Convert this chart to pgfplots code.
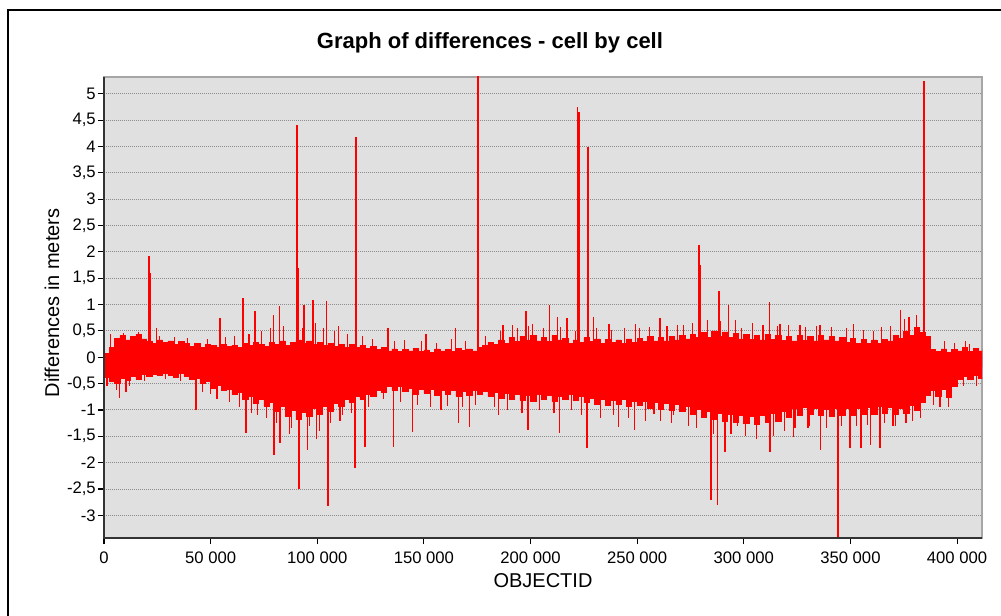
\documentclass[border=0pt]{standalone}
\usepackage{fontspec}
\setmainfont{Liberation Sans}
\usepackage{pgfplots}
\usepackage{pgfplotstable}
\pgfplotsset{compat=1.18}
\definecolor{bggray}{RGB}{224,224,224}
\definecolor{gridgray}{RGB}{140,140,140}
\definecolor{redline}{RGB}{255,0,0}

% dense band envelope (upper / lower edge of the signal)
\pgfplotstableread{
x hi lo
0 0.08 -0.38
2500 0.18 -0.46
5000 0.36 -0.50
7500 0.41 -0.40
10000 0.33 -0.44
12500 0.39 -0.36
15000 0.43 -0.42
17500 0.35 -0.33
20000 0.30 -0.37
22500 0.26 -0.32
25000 0.33 -0.35
27500 0.28 -0.30
30000 0.31 -0.34
32500 0.24 -0.38
35000 0.30 -0.31
37500 0.27 -0.36
40000 0.21 -0.42
42500 0.26 -0.39
45000 0.19 -0.50
47500 0.24 -0.46
50000 0.22 -0.58
52500 0.18 -0.54
55000 0.25 -0.63
57500 0.20 -0.60
60000 0.23 -0.71
62500 0.19 -0.66
65000 0.27 -0.80
67500 0.22 -0.74
70000 0.29 -0.88
72500 0.24 -0.80
75000 0.20 -0.93
77500 0.28 -0.86
80000 0.25 -1.02
82500 0.31 -0.94
85000 0.23 -1.12
87500 0.29 -1.00
90000 0.33 -1.18
92500 0.26 -1.05
95000 0.31 -1.12
97500 0.24 -0.96
100000 0.29 -1.08
102500 0.22 -0.94
105000 0.27 -1.02
107500 0.20 -0.88
110000 0.25 -0.94
112500 0.19 -0.80
115000 0.24 -0.86
117500 0.18 -0.74
120000 0.23 -0.80
122500 0.17 -0.70
125000 0.21 -0.74
127500 0.15 -0.62
130000 0.18 -0.66
132500 0.12 -0.56
135000 0.16 -0.62
137500 0.11 -0.55
140000 0.15 -0.64
142500 0.12 -0.58
145000 0.17 -0.70
147500 0.11 -0.61
150000 0.14 -0.68
152500 0.10 -0.60
155000 0.16 -0.72
157500 0.12 -0.63
160000 0.15 -0.70
162500 0.11 -0.62
165000 0.17 -0.74
167500 0.13 -0.65
170000 0.16 -0.72
172500 0.12 -0.62
175000 0.18 -0.70
177500 0.22 -0.64
180000 0.28 -0.74
182500 0.24 -0.66
185000 0.33 -0.77
187500 0.27 -0.68
190000 0.37 -0.79
192500 0.30 -0.70
195000 0.40 -0.82
197500 0.33 -0.72
200000 0.42 -0.84
202500 0.31 -0.70
205000 0.38 -0.80
207500 0.30 -0.72
210000 0.41 -0.84
212500 0.33 -0.74
215000 0.36 -0.80
217500 0.27 -0.70
220000 0.33 -0.82
222500 0.29 -0.74
225000 0.37 -0.86
227500 0.30 -0.78
230000 0.35 -0.90
232500 0.27 -0.80
235000 0.34 -0.92
237500 0.28 -0.82
240000 0.33 -0.90
242500 0.26 -0.80
245000 0.35 -0.93
247500 0.29 -0.84
250000 0.36 -0.92
252500 0.30 -0.83
255000 0.39 -0.96
257500 0.31 -0.86
260000 0.37 -0.98
262500 0.31 -0.88
265000 0.40 -1.00
267500 0.33 -0.90
270000 0.41 -1.03
272500 0.35 -0.94
275000 0.44 -1.08
277500 0.37 -0.99
280000 0.47 -1.14
282500 0.38 -1.03
285000 0.50 -1.18
287500 0.39 -1.06
290000 0.48 -1.22
292500 0.37 -1.08
295000 0.46 -1.24
297500 0.35 -1.10
300000 0.44 -1.26
302500 0.34 -1.12
305000 0.42 -1.28
307500 0.33 -1.10
310000 0.43 -1.24
312500 0.34 -1.07
315000 0.42 -1.21
317500 0.32 -1.03
320000 0.40 -1.14
322500 0.31 -0.97
325000 0.41 -1.10
327500 0.32 -0.95
330000 0.40 -1.08
332500 0.31 -0.96
335000 0.42 -1.10
337500 0.33 -0.98
340000 0.40 -1.12
342500 0.31 -0.97
345000 0.38 -1.10
347500 0.29 -0.97
350000 0.36 -1.10
352500 0.27 -0.96
355000 0.34 -1.08
357500 0.26 -0.95
360000 0.33 -1.08
362500 0.27 -0.94
365000 0.34 -1.06
367500 0.31 -0.95
370000 0.42 -1.08
372500 0.36 -0.96
375000 0.50 -1.06
377500 0.41 -0.92
380000 0.56 -1.00
382500 0.47 -0.86
385000 0.40 -0.72
387500 0.15 -0.62
390000 0.11 -0.74
392500 0.16 -0.60
395000 0.10 -0.76
397500 0.15 -0.56
400000 0.12 -0.42
402500 0.18 -0.36
405000 0.11 -0.41
407500 0.17 -0.35
410000 0.12 -0.40
411700 0.16 -0.36
}\band

% large isolated spikes
\pgfplotstableread{
x y
1500 -0.55
7200 -0.78
10300 -0.65
21200 1.92
21800 1.60
24700 0.55
43100 -1.00
50000 -0.70
54400 0.74
65300 1.12
66600 -1.44
70800 0.87
72000 -1.10
79400 0.80
79700 -1.85
82200 0.97
82600 -1.63
86900 -1.45
90500 4.40
91100 1.70
91300 -2.50
93800 1.00
95400 -1.76
97900 1.09
99600 -1.55
104400 1.06
105100 -2.82
110000 0.60
110600 -1.20
117700 -2.10
118200 4.18
122400 -1.70
133300 0.55
135700 -1.70
144600 -1.41
151000 0.45
158000 -1.00
164800 0.55
166200 -1.25
171300 -1.32
175400 5.60
185000 -1.10
187000 0.61
191500 0.61
197900 0.87
198900 -1.38
201000 0.64
208900 0.99
212700 0.77
213600 -1.44
217200 0.74
222000 4.75
222600 4.65
226600 -1.73
227000 4.00
229500 0.77
236700 0.64
241200 -1.32
248700 -1.38
249200 0.64
258000 -1.07
260800 0.74
267000 -1.10
271800 0.61
279100 2.13
279700 1.75
284600 -2.70
287700 -2.80
288400 1.25
291300 -1.79
292800 0.99
297000 -1.30
299000 0.55
312000 1.05
312300 -1.79
317000 0.64
323300 -1.51
326400 0.61
330000 -1.35
335800 0.61
335900 -1.76
344100 -3.60
349700 -1.73
351400 0.64
354900 -1.73
359500 -1.67
363900 -1.73
364500 0.58
370000 -1.30
373500 0.90
376000 -1.25
377400 0.77
384600 5.25
392000 -0.95
404000 0.30
}\spikes

% smaller spikes just outside the dense band
\pgfplotstableread{
x y
3000 0.45
6000 -0.62
9000 0.47
12000 -0.55
16000 0.48
19000 -0.45
26000 0.40
29000 -0.42
33000 0.38
36000 -0.45
39000 0.36
46000 -0.66
48500 0.35
53000 -0.80
57000 0.38
59000 -0.85
61000 0.40
63500 -0.95
68000 0.45
69000 -1.05
74000 0.50
76000 -1.15
78000 0.55
81000 -1.25
84000 0.60
88000 -1.35
93000 0.55
96500 -1.30
99000 0.65
101000 -1.40
103000 0.55
106000 -1.25
108000 0.50
112000 -1.10
114000 0.45
116000 -1.05
121000 0.40
124000 -0.95
126000 0.35
131000 -0.80
136000 0.30
139000 -0.85
141000 0.32
147000 -0.90
149000 0.30
153000 -0.95
156000 0.28
161000 -0.92
163000 0.35
168000 -0.95
169500 0.30
174000 -0.90
179000 0.40
183000 -0.95
186000 0.50
189000 -1.00
194000 0.55
196000 -1.05
199000 0.60
204000 -1.00
206000 0.55
211000 -1.05
214000 0.58
219000 -1.00
221000 0.50
224000 -1.10
231000 0.55
233000 -1.15
238000 0.52
239000 -1.10
244000 0.55
246000 -1.15
251000 0.55
254000 -1.20
256000 0.58
261000 -1.20
264000 0.60
266000 -1.25
269000 0.62
274000 -1.30
276000 0.65
278000 -1.35
283000 0.70
286000 -1.45
289000 0.68
294000 -1.45
296000 0.70
301000 -1.50
304000 0.65
306000 -1.55
309000 0.62
314000 -1.50
316000 0.60
319000 -1.40
321000 0.62
324000 -1.35
329000 0.58
331000 -1.30
334000 0.60
339000 -1.35
341000 0.58
346000 -1.30
348000 0.55
353000 -1.30
356000 0.52
358000 -1.28
361000 0.50
366000 -1.25
369000 0.60
371000 -1.30
375500 0.72
379000 -1.20
381000 0.80
383000 -1.15
386000 0.35
389000 -0.90
394000 0.30
396000 -0.95
399000 0.28
403000 -0.55
406000 0.25
409000 -0.55
}\hair

\begin{document}
\begin{tikzpicture}
\path[use as bounding box] (0,0) rectangle (750.75pt,461.25pt);
\begin{axis}[
  name=ax,
  at={(78pt,57.75pt)}, anchor=south west,
  scale only axis, width=658.5pt, height=345.75pt,
  xmin=0, xmax=411700, ymin=-3.43, ymax=5.32,
  axis background/.style={fill=bggray},
  axis line style={draw=black!35, line width=1.1pt},
  tick align=outside, tick pos=left, major tick length=4.5pt,
  tick style={black, line width=0.8pt},
  scaled x ticks=false,
  xtick={0,50000,100000,150000,200000,250000,300000,350000,400000},
  xticklabels={0,50 000,100 000,150 000,200 000,250 000,300 000,350 000,400 000},
  ytick={-3,-2.5,-2,-1.5,-1,-0.5,0,0.5,1,1.5,2,2.5,3,3.5,4,4.5,5},
  ymajorgrids,
  grid style={gridgray, line width=0.75pt, dash pattern=on 0.75pt off 0.75pt},
  /pgf/number format/use comma,
  /pgf/number format/assume math mode=true,
  ticklabel style={font=\fontsize{12.5}{14}\selectfont},
  yticklabel style={inner sep=1.5pt},
  xticklabel style={inner sep=2pt, yshift=-4pt},
  every axis title shift=0pt,
  title={Graph of differences - cell by cell},
  title style={at={(axis description cs:0.4396,1.0738)}, anchor=center, font=\fontsize{16.5}{19}\selectfont\bfseries},
  xlabel={OBJECTID},
  xlabel style={at={(axis description cs:0.5,-0.0933)}, anchor=center, font=\fontsize{15}{18}\selectfont},
  ylabel={Differences in meters},
  ylabel style={at={(axis description cs:-0.0592,0.51)}, anchor=center, font=\fontsize{15}{18}\selectfont},
]
\addplot[const plot, fill=redline, draw=redline, line width=0.5pt] table[x=x,y=hi]{\band} \closedcycle;
\addplot[const plot, fill=redline, draw=redline, line width=0.5pt] table[x=x,y=lo]{\band} \closedcycle;
\addplot[redline, ycomb, line width=0.8pt] table[x=x,y=y]{\hair};
\addplot[redline, ycomb, line width=1.2pt] table[x=x,y=y]{\spikes};
\end{axis}
\draw[black!80, line width=1.1pt] (ax.north west) -- (ax.south west) -- (ax.south east);
\draw[black, line width=1.5pt] (6pt,-2pt) -- (6pt,453.4pt) -- (760pt,453.4pt);
\end{tikzpicture}
\end{document}
